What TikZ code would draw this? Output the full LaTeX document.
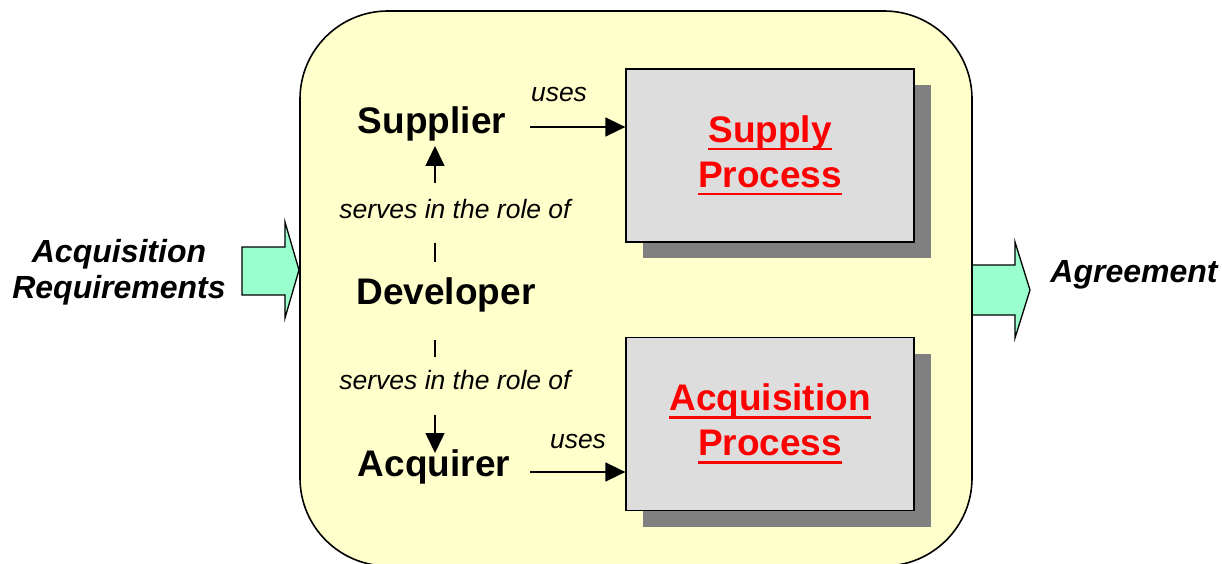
\documentclass[tikz,border=0pt]{standalone}
\usepackage{fontspec}
\setmainfont{Liberation Sans}
\usetikzlibrary{arrows.meta,shadows}
\definecolor{panelyellow}{RGB}{255,255,204}
\definecolor{procgray}{RGB}{221,221,221}
\definecolor{shadegray}{RGB}{128,128,128}
\definecolor{mint}{RGB}{153,255,204}
\newcommand{\redlink}[1]{\sbox0{#1}\rlap{\rule[-8pt]{\wd0}{2.7pt}}\usebox0}
\begin{document}
\begin{tikzpicture}[
        x=1pt, y=-1pt,
        role/.style={font=\fontsize{37}{44}\selectfont\bfseries, anchor=base, inner sep=0pt},
        note/.style={font=\fontsize{26.5}{32}\selectfont\itshape, anchor=base, inner sep=0pt},
        side/.style={font=\fontsize{32}{35.5}\selectfont\bfseries\itshape, align=center, inner sep=0pt},
        proc/.style={draw, line width=1.3pt, fill=procgray, minimum width=288pt, minimum height=173pt,
            drop shadow={shadow xshift=17pt, shadow yshift=-16pt, fill=shadegray, opacity=1},
            text=red, font=\fontsize{37}{45}\selectfont\bfseries, align=center, inner sep=0pt},
        link/.style={-{Triangle[length=20pt,width=19pt]}, line width=1.6pt},
        tick/.style={line width=1.6pt},
        bigarrow/.style={draw, line width=1.3pt, fill=mint},
    ]
    \clip (0,0) rectangle (1222,564);
    % input and output arrows
    \draw[bigarrow] (242,247) -- (285,247) -- (285,222) -- (299,270) -- (285,318) -- (285,295) -- (242,295) -- cycle;
    \draw[bigarrow] (972,265) -- (1015,265) -- (1015,242) -- (1030,290) -- (1015,338) -- (1015,315) -- (972,315) -- cycle;
    % panel
    \draw[line width=1.6pt, fill=panelyellow, rounded corners=88pt] (300,11) rectangle (972,566);

    \node[side](requirements) at (119,272){Acquisition\\Requirements};
    \node[side, anchor=base](agreement) at (1134,282){Agreement};

    \node[role](supplier) at (432,134){Supplier};
    \node[role](developer) at (446,304){Developer};
    \node[role](acquirer) at (434,476){Acquirer};

    \node[proc](supply) at (770,155.5){\redlink{Supply}\\\redlink{Process}};
    \node[proc](acquisition) at (770,424){\redlink{Acquisition}\\\redlink{Process}};

    \node[note](usesup) at (559,102){uses};
    \node[note](usesdown) at (578,448){uses};
    \node[note](servesup) at (455,218){serves in the role of};
    \node[note](servesdown) at (455,389){serves in the role of};

    % uses arrows
    \coordinate (sfoot) at (530,127);
    \coordinate (afoot) at (530,472);
    \draw[link] (sfoot) -- (sfoot -| supply.west);
    \draw[link] (afoot) -- (afoot -| acquisition.west);

    % role arrows
    \coordinate (upfoot) at (435,183);
    \coordinate (uptip) at (435,146);
    \coordinate (downfoot) at (435,415);
    \coordinate (downtip) at (435,453);
    \draw[link] (upfoot) -- (uptip);
    \draw[link] (downfoot) -- (downtip);
    \draw[tick] (435,243) -- (435,262);
    \draw[tick] (435,340) -- (435,357);
\end{tikzpicture}
\end{document}
